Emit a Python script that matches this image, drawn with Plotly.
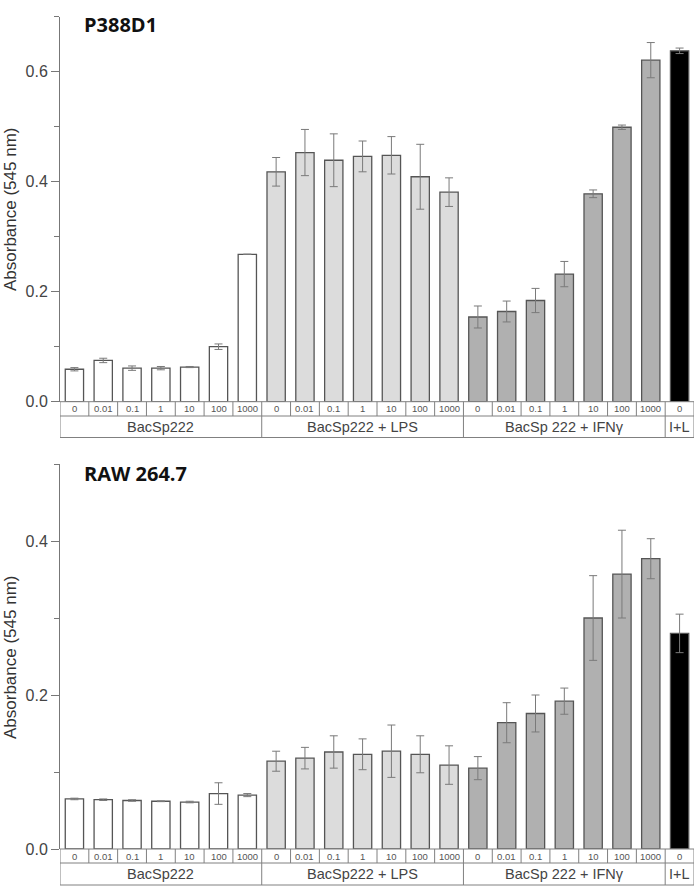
import plotly.graph_objects as go
import numpy as np

# ---------------- data ----------------
doses = ["0", "0.01", "0.1", "1", "10", "100", "1000"]
groups = ["BacSp222", "BacSp222 + LPS", "BacSp 222 + IFNγ", "I+L"]
group_sizes = [7, 7, 7, 1]
dose_labels = doses + doses + doses + ["0"]

p388_values = [0.059, 0.075, 0.061, 0.061, 0.063, 0.100, 0.268,
               0.418, 0.453, 0.439, 0.446, 0.448, 0.409, 0.381,
               0.154, 0.164, 0.184, 0.232, 0.378, 0.499, 0.621,
               0.638]
p388_errors = [0.003, 0.004, 0.004, 0.003, 0.001, 0.005, 0.0,
               0.026, 0.042, 0.048, 0.028, 0.034, 0.059, 0.026,
               0.020, 0.019, 0.022, 0.023, 0.007, 0.004, 0.032,
               0.005]

raw_values = [0.065, 0.064, 0.063, 0.062, 0.061, 0.072, 0.070,
              0.114, 0.118, 0.126, 0.123, 0.127, 0.123, 0.109,
              0.105, 0.164, 0.176, 0.192, 0.300, 0.357, 0.377,
              0.280]
raw_errors = [0.001, 0.001, 0.001, 0.0005, 0.001, 0.014, 0.002,
              0.013, 0.014, 0.021, 0.020, 0.034, 0.024, 0.025,
              0.015, 0.026, 0.024, 0.017, 0.055, 0.057, 0.026,
              0.025]

group_colors = ["#ffffff", "#dcdcdc", "#b0b0b0", "#000000"]
panel_titles = ["P388D1", "RAW 264.7"]

# ---------------- layout helpers ----------------
W, H = 697, 890
def py(pix):  # pixel row -> paper y
    return (H - pix) / H

bar_colors = []
for c, n in zip(group_colors, group_sizes):
    bar_colors += [c] * n
xs = list(range(len(dose_labels)))

fig = go.Figure()
panels = [
    dict(vals=p388_values, errs=p388_errors, yaxis="y", xaxis="x",
         zero=401.7, top=16.7, r1=416.0, r2=437.5, ymax=0.7,
         title_y=25, ylab_y=210),
    dict(vals=raw_values, errs=raw_errors, yaxis="y2", xaxis="x2",
         zero=849.0, top=464.0, r1=863.0, r2=885.0, ymax=0.5,
         title_y=473, ylab_y=658),
]

shapes = []
annotations = []
line_col = "#808080"
for i, p in enumerate(panels):
    fig.add_trace(go.Bar(
        x=xs, y=p["vals"], xaxis=p["xaxis"], yaxis=p["yaxis"],
        marker=dict(color=bar_colors, line=dict(color="#555555", width=1.3)),
        error_y=dict(type="data", array=p["errs"], visible=True,
                     color="#7a7a7a", thickness=1, width=4),
        showlegend=False, hoverinfo="skip",
    ))
    xr = p["xaxis"]
    y0, y1, y2 = py(p["zero"]), py(p["r1"]), py(p["r2"])
    # horizontal table lines
    for yy in (y0, y1, y2):
        shapes.append(dict(type="line", xref=xr, yref="paper", x0=-0.5, x1=21.5,
                           y0=yy, y1=yy, line=dict(color=line_col, width=1)))
    # vertical dose separators
    for k in range(len(dose_labels) + 1):
        shapes.append(dict(type="line", xref=xr, yref="paper", x0=k - 0.5, x1=k - 0.5,
                           y0=y1, y1=y0, line=dict(color=line_col, width=1)))
    # group separators
    edge = -0.5
    shapes.append(dict(type="line", xref=xr, yref="paper", x0=edge, x1=edge,
                       y0=y2, y1=y1, line=dict(color=line_col, width=1)))
    for g, n in zip(groups, group_sizes):
        annotations.append(dict(xref=xr, yref="paper", x=edge + n / 2, y=(y1 + y2) / 2,
                                xanchor="center", yanchor="middle",
                                text=g, showarrow=False,
                                font=dict(family="Liberation Sans", size=14.5, color="#444444")))
        edge += n
        shapes.append(dict(type="line", xref=xr, yref="paper", x0=edge, x1=edge,
                           y0=y2, y1=y1, line=dict(color=line_col, width=1)))
    for k, lab in enumerate(dose_labels):
        annotations.append(dict(xref=xr, yref="paper", x=k, y=(y0 + y1) / 2,
                                xanchor="center", yanchor="middle",
                                text=lab, showarrow=False,
                                font=dict(family="Liberation Sans", size=9.5, color="#555555")))
    # panel title
    annotations.append(dict(xref="paper", yref="paper", x=(82 - 60) / 634, y=py(p["title_y"]),
                            xanchor="left", yanchor="middle", text="<b>%s</b>" % panel_titles[i],
                            showarrow=False,
                            font=dict(family="Open Sans", size=20, color="#111111")))
    # y-axis title
    annotations.append(dict(xref="paper", yref="paper", x=(10 - 60) / 634, y=py(p["ylab_y"]),
                            xanchor="center", yanchor="middle", textangle=-90,
                            text="Absorbance (545 nm)", showarrow=False,
                            font=dict(family="Liberation Sans", size=17, color="#333333")))

axis_common = dict(showline=True, linecolor="#777777", linewidth=1, ticks="outside",
                   ticklen=8, tickcolor="#777777", tickwidth=1, dtick=0.2, tick0=0,
                   tickformat=".1f", showgrid=False, zeroline=False, automargin=False,
                   tickfont=dict(family="Liberation Sans", size=16, color="#444444"),
                   minor=dict(dtick=0.1, ticks="outside", ticklen=5, tickcolor="#777777"))
xaxis_common = dict(range=[-0.5, 21.5], showticklabels=False, showline=False,
                    showgrid=False, zeroline=False, ticks="", domain=[0, 1],
                    automargin=False)

fig.update_layout(
    width=W, height=H,
    margin=dict(l=60, r=3, t=0, b=0, autoexpand=False),
    paper_bgcolor="white", plot_bgcolor="white",
    bargap=0.365,
    xaxis=dict(**xaxis_common, anchor="y"),
    xaxis2=dict(**xaxis_common, anchor="y2"),
    yaxis=dict(**axis_common, range=[0, 0.7], anchor="x",
               domain=[py(401.7), py(16.7)]),
    yaxis2=dict(**axis_common, range=[0, 0.5], anchor="x2",
                domain=[py(849.0), py(464.0)]),
    shapes=shapes,
    annotations=annotations,
)

fig.write_html("out.html", config={"displayModeBar": False},
               post_script="document.body.style.margin='0';document.body.style.overflow='hidden';")
